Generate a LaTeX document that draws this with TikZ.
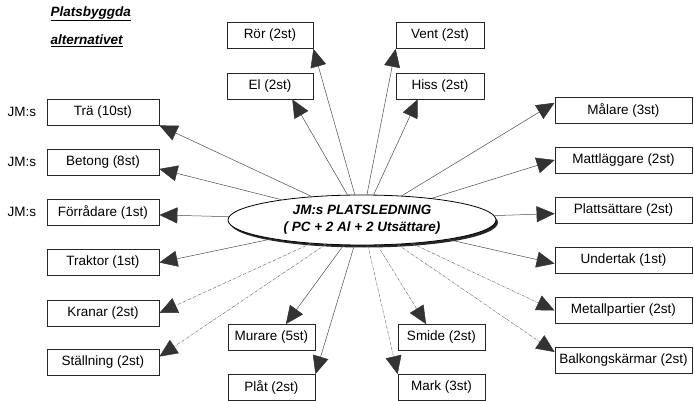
\documentclass[tikz,border=0pt]{standalone}
\usepackage{fontspec}
\setmainfont{Liberation Sans}
\usetikzlibrary{arrows.meta,shadows,shapes.geometric}

\begin{document}
\begin{tikzpicture}[
    x=1pt, y=-1pt,
    every node/.style={font=\fontsize{13.5}{16}\selectfont},
    yrke/.style={draw=black!85, line width=0.8pt, minimum height=26pt, inner sep=0pt},
    vanster/.style={yrke, minimum width=112pt},
    hoger/.style={yrke, minimum width=137pt},
    mitt/.style={yrke, minimum width=87pt},
    pil/.style={draw=black!70, line width=0.5pt,
      -{Triangle[length=18pt, width=16pt, black!80]}},
    svagpil/.style={pil, draw=black!55, densely dash dot}
  ]

  \useasboundingbox (0,0) rectangle (694,401);

  % --- 1. rubrik ---
  \node[anchor=west, font=\fontsize{13.5}{16}\selectfont\bfseries\itshape] (rubrik1) at (47,14) {\underline{Platsbyggda}};
  \node[anchor=west, font=\fontsize{13.5}{16}\selectfont\bfseries\itshape] (rubrik2) at (47,41) {\underline{alternativet}};

  % --- 2. platsledning (ellips i mitten) ---
  \node[ellipse, draw=black, line width=0.8pt, fill=white,
    minimum width=268pt, minimum height=50pt, inner sep=0pt, align=center,
    drop shadow={shadow xshift=2pt, shadow yshift=-2.5pt, fill=black!85, opacity=1},
    font=\fontsize{13.5}{17}\selectfont\bfseries\itshape] (ledning) at (362,220)
    {JM:s PLATSLEDNING\\( PC + 2 Al + 2 Utsättare)};

  % --- 3. vänster kolumn ---
  \node[vanster] (tra) at (103,112) {Trä (10st)};
  \node[vanster] (betong) at (103,162) {Betong (8st)};
  \node[vanster] (forrad) at (103,212) {Förrådare (1st)};
  \node[vanster] (traktor) at (103,262.5) {Traktor (1st)};
  \node[vanster] (kranar) at (103,313) {Kranar (2st)};
  \node[vanster] (stallning) at (103,362.5) {Ställning (2st)};

  % JM:s egna
  \node[anchor=west] (jm1) at (4,112) {JM:s};
  \node[anchor=west] (jm2) at (4,162) {JM:s};
  \node[anchor=west] (jm3) at (4,212) {JM:s};

  % --- 4. höger kolumn ---
  \node[hoger] (malare) at (623.5,110) {Målare (3st)};
  \node[hoger] (matt) at (623.5,160) {Mattläggare (2st)};
  \node[hoger] (platt) at (623.5,210) {Plattsättare (2st)};
  \node[hoger] (undertak) at (623.5,260) {Undertak (1st)};
  \node[hoger] (metall) at (623.5,310.5) {Metallpartier (2st)};
  \node[hoger] (balkong) at (623.5,360.5) {Balkongskärmar (2st)};

  % --- 5. övre och undre boxar ---
  \node[mitt, minimum width=86pt] (ror) at (270,35.5) {Rör (2st)};
  \node[mitt, minimum width=86pt] (el) at (270,86) {El (2st)};
  \node[mitt, minimum width=88pt] (vent) at (440,35.5) {Vent (2st)};
  \node[mitt, minimum width=88pt] (hiss) at (440,86) {Hiss (2st)};
  \node[mitt] (murare) at (271.5,337.5) {Murare (5st)};
  \node[mitt] (plat) at (271.5,387.5) {Plåt (2st)};
  \node[mitt] (smide) at (441.5,337.5) {Smide (2st)};
  \node[mitt] (mark) at (441.5,387.5) {Mark (3st)};

  % --- 6. pilar från platsledningen ---
  \draw[pil] (ledning) -- (tra.south east);
  \draw[pil] (ledning) -- (betong.-7);
  \draw[pil] (ledning) -- (forrad.-3);
  \draw[pil] (ledning) -- (traktor.east);
  \draw[svagpil] (ledning) -- (kranar.east);
  \draw[svagpil] (ledning) -- (stallning.6);

  \draw[pil] (ledning) -- (malare.174);
  \draw[pil] (ledning) -- (matt.west);
  \draw[pil] (ledning) -- (platt.183);
  \draw[pil] (ledning) -- (undertak.183);
  \draw[svagpil] (ledning) -- (metall.west);
  \draw[svagpil] (ledning) -- (balkong.173);

  \draw[pil] (ledning) -- (ror.south east);
  \draw[pil] (ledning) -- (el.-31);
  \draw[pil] (ledning) -- (vent.south west);
  \draw[pil] (ledning) -- (hiss.211);

  \draw[pil] (ledning) -- (murare.43);
  \draw[pil] (ledning) -- (plat.north east);
  \draw[svagpil] (ledning) -- (smide.139);
  \draw[svagpil] (ledning) -- (mark.north west);

\end{tikzpicture}
\end{document}
